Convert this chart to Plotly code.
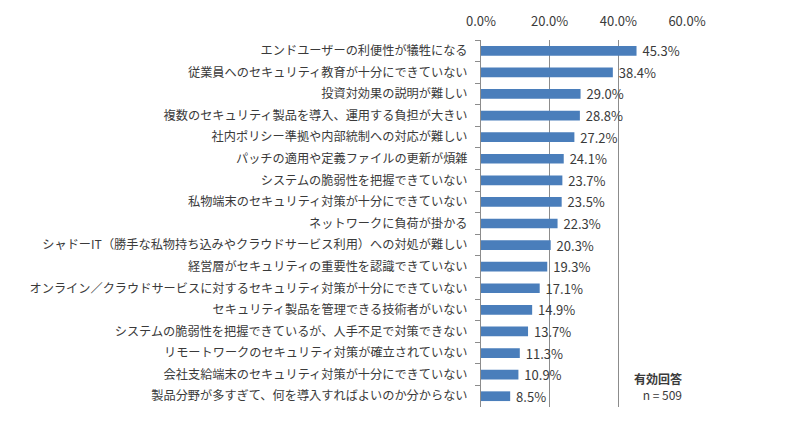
import plotly.graph_objects as go

categories = [
    "エンドユーザーの利便性が犠牲になる",
    "従業員へのセキュリティ教育が十分にできていない",
    "投資対効果の説明が難しい",
    "複数のセキュリティ製品を導入、運用する負担が大きい",
    "社内ポリシー準拠や内部統制への対応が難しい",
    "パッチの適用や定義ファイルの更新が煩雑",
    "システムの脆弱性を把握できていない",
    "私物端末のセキュリティ対策が十分にできていない",
    "ネットワークに負荷が掛かる",
    "シャドーIT（勝手な私物持ち込みやクラウドサービス利用）への対処が難しい",
    "経営層がセキュリティの重要性を認識できていない",
    "オンライン／クラウドサービスに対するセキュリティ対策が十分にできていない",
    "セキュリティ製品を管理できる技術者がいない",
    "システムの脆弱性を把握できているが、人手不足で対策できない",
    "リモートワークのセキュリティ対策が確立されていない",
    "会社支給端末のセキュリティ対策が十分にできていない",
    "製品分野が多すぎて、何を導入すればよいのか分からない",
]
values = [45.3, 38.4, 29.0, 28.8, 27.2, 24.1, 23.7, 23.5, 22.3, 20.3, 19.3, 17.1, 14.9, 13.7, 11.3, 10.9, 8.5]
tick_vals = [0, 20, 40, 60]
tick_text = ["0.0%", "20.0%", "40.0%", "60.0%"]

FONT = "Noto Sans CJK JP"
TXT = "#3a3a3a"

fig = go.Figure(go.Bar(
    x=values, y=categories, orientation="h",
    marker=dict(color="#4a7ebb", line=dict(width=0)),
    texttemplate=" %{x:.1f}%", textposition="outside",
    textfont=dict(size=13, color=TXT, family=FONT),
    constraintext="none",
    cliponaxis=False,
))

fig.update_layout(
    width=800, height=425,
    margin=dict(l=473, r=121, t=32, b=26),
    paper_bgcolor="white", plot_bgcolor="white",
    bargap=0.55,
    showlegend=False,
    font=dict(family=FONT, size=12, color=TXT),
    xaxis=dict(
        range=[0, 60], side="top", automargin=False,
        tickvals=tick_vals, ticktext=tick_text,
        showgrid=True, gridcolor="#8c8c8c", gridwidth=1,
        zeroline=False, showline=False, ticks="",
        ticklabelstandoff=10,
        tickfont=dict(size=13, color=TXT, family=FONT),
        fixedrange=True,
    ),
    yaxis=dict(
        autorange="reversed", automargin=False,
        showline=True, linecolor="#8c8c8c", linewidth=1,
        ticks="outside", ticklen=5, tickcolor="#8c8c8c", tickson="boundaries",
        ticklabelstandoff=10,
        tickfont=dict(size=12.2, color=TXT, family=FONT),
        showgrid=False,
    ),
    annotations=[
        dict(text="<b>有効回答</b><br>n = 509", x=1.0, y=0.0, xref="paper", yref="paper",
             xanchor="right", yanchor="bottom", align="right", showarrow=False,
             font=dict(size=12, color=TXT, family=FONT), xshift=-3, yshift=2),
    ],
)

fig.write_html("out.html")
